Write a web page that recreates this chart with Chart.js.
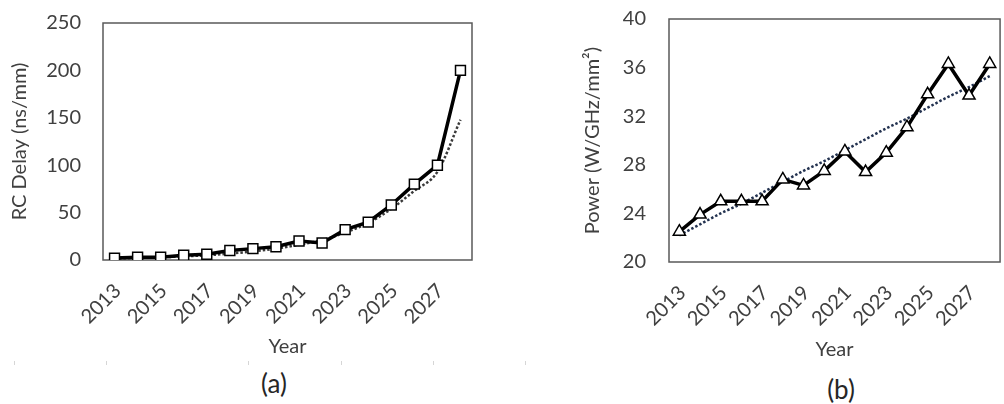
<!DOCTYPE html>
<html>
<head>
<meta charset="utf-8">
<script src="https://cdn.jsdelivr.net/npm/chart.js@4.4.1/dist/chart.umd.min.js"></script>
<style>
  html, body { margin: 0; padding: 0; background: #fff; overflow: hidden; }
  body { width: 1004px; height: 404px; position: relative; font-family: Lato, sans-serif; }
  .box { position: absolute; }
  .caption { position: absolute; font-size: 26px; color: #262626; transform: translate(-50%, -50%); }
  .rule { position: absolute; top: 361px; width: 1px; height: 4px; background: #d6d6d6; }
</style>
</head>
<body>
<div class="box" style="left:0; top:0; width:500px; height:363px;"><canvas id="delayChart"></canvas></div>
<div class="box" style="left:573px; top:0; width:453px; height:366px;"><canvas id="powerChart"></canvas></div>
<div class="caption" style="left:274px; top:383px;">(a)</div>
<div class="caption" style="left:841px; top:389px;">(b)</div>
<div class="rule" style="left:14px;"></div>
<div class="rule" style="left:106px;"></div>
<div class="rule" style="left:248px;"></div>
<div class="rule" style="left:341px;"></div>
<div class="rule" style="left:433px;"></div>
<div class="rule" style="left:525px;"></div>
<script>
// years on the x axis, only every second one gets a label
const years = ['2013', '2014', '2015', '2016', '2017', '2018', '2019', '2020',
               '2021', '2022', '2023', '2024', '2025', '2026', '2027', '2028'];
const yearTicks = ['2013', '2015', '2017', '2019', '2021', '2023', '2025', '2027'];

// (a) RC delay, ns/mm, and its exponential trend
const rcDelay = [2, 3, 3, 5, 6, 10, 12, 14, 20, 18, 32, 40, 58, 80, 100, 200];
const rcTrend = [1.5, 2, 2.8, 3.8, 5, 6.8, 9, 12, 16, 21, 29, 39, 54, 73, 93, 148];

// (b) power density, W/GHz/mm², and its linear trend
const power = [22.5, 23.9, 25.0, 25.0, 25.0, 26.8, 26.3, 27.5, 29.1, 27.4, 29.0, 31.1, 33.8, 36.3, 33.7, 36.3];
const powerTrend = [22.2, 23.1, 24.0, 24.8, 25.7, 26.6, 27.5, 28.3, 29.2, 30.1, 31.0, 31.8, 32.7, 33.6, 34.4, 35.3];

const FONT = 'Lato, sans-serif';
const TEXT = '#404040';

// plot frame around the chart area
const framePlugin = {
    id: 'frame',
    beforeDatasetsDraw(chart) {
        const { ctx, chartArea: a } = chart;
        ctx.save();
        ctx.strokeStyle = '#595959';
        ctx.lineWidth = 1.5;
        ctx.strokeRect(a.left, a.top, a.right - a.left, a.bottom - a.top);
        ctx.restore();
    }
};

function makeChart(id, cfg) {
    return new Chart(document.getElementById(id), {
        type: 'line',
        data: {
            labels: years,
            datasets: [
                {
                    data: cfg.values,
                    borderColor: '#000',
                    borderWidth: 3.5,
                    pointStyle: cfg.marker,
                    pointRadius: 7,
                    pointBorderWidth: 1.5,
                    pointBorderColor: '#000',
                    pointBackgroundColor: '#fff',
                    tension: 0,
                },
                {
                    data: cfg.trend,
                    borderColor: cfg.trendColor,
                    borderWidth: 2.5,
                    borderDash: [2.5, 2],
                    pointRadius: 0,
                    cubicInterpolationMode: 'monotone',
                },
            ],
        },
        options: {
            responsive: true,
            maintainAspectRatio: false,
            animation: false,
            layout: { padding: { left: 4, top: cfg.top, right: cfg.right, bottom: 0 } },
            plugins: { legend: { display: false }, tooltip: { enabled: false } },
            scales: {
                x: {
                    type: 'category',
                    offset: true,
                    grid: { display: false, drawTicks: false, tickLength: 0 },
                    border: { display: false },
                    ticks: {
                        autoSkip: false,
                        minRotation: 45,
                        maxRotation: 45,
                        padding: 19,
                        labelOffset: 3,
                        color: TEXT,
                        font: { family: FONT, size: 20 },
                        callback: (v, i) => yearTicks.includes(years[i]) ? years[i] : '',
                    },
                    title: { display: true, text: 'Year', color: TEXT, font: { family: FONT, size: 20 } },
                    afterFit: (s) => { s.height = cfg.xHeight; },
                },
                y: {
                    min: cfg.min,
                    max: cfg.max,
                    // hidden tick marks keep the labels away from the frame
                    grid: { display: false, drawTicks: true, tickLength: cfg.tickGap },
                    border: { display: false },
                    ticks: {
                        stepSize: cfg.step,
                        padding: 3,
                        color: TEXT,
                        font: { family: FONT, size: 20 },
                    },
                    title: { display: true, text: cfg.yTitle, color: TEXT, font: { family: FONT, size: 20 } },
                    afterFit: (s) => { s.width = cfg.yWidth; },
                },
            },
        },
        plugins: [framePlugin],
    });
}

document.addEventListener('DOMContentLoaded', () => {
    makeChart('delayChart', {
        values: rcDelay, trend: rcTrend, marker: 'rect', trendColor: '#3a3a3a',
        min: 0, max: 250, step: 50, yTitle: 'RC Delay (ns/mm)',
        top: 23, right: 28, xHeight: 103, yWidth: 99, tickGap: 19,
    });
    makeChart('powerChart', {
        values: power, trend: powerTrend, marker: 'triangle', trendColor: '#22314f',
        min: 20, max: 40, step: 4, yTitle: 'Power (W/GHz/mm²)',
        top: 19, right: 10, xHeight: 104, yWidth: 92, tickGap: 20,
    });
});
</script>
</body>
</html>
